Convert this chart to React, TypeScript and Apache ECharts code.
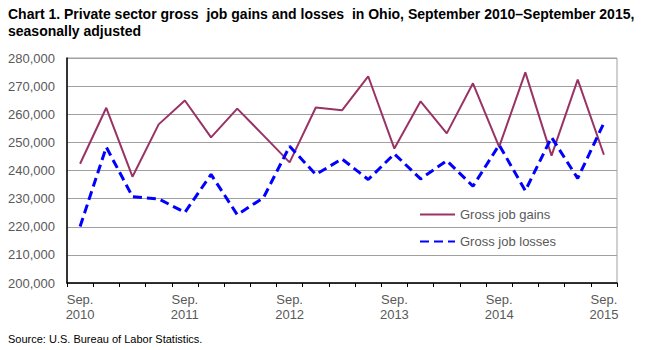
import React, { useEffect, useRef } from "react";
import * as echarts from "echarts";

const categories = [
  "Sep. 2010", "Dec. 2010", "Mar. 2011", "Jun. 2011",
  "Sep. 2011", "Dec. 2011", "Mar. 2012", "Jun. 2012",
  "Sep. 2012", "Dec. 2012", "Mar. 2013", "Jun. 2013",
  "Sep. 2013", "Dec. 2013", "Mar. 2014", "Jun. 2014",
  "Sep. 2014", "Dec. 2014", "Mar. 2015", "Jun. 2015",
  "Sep. 2015",
];

const grossJobGains = [
  242400, 262300, 237800, 256400, 264900, 251800, 262000, 252500,
  242900, 262400, 261400, 273500, 247800, 264600, 253200, 271000,
  248400, 274900, 245300, 272300, 245600,
];

const grossJobLosses = [
  220100, 248300, 230700, 229900, 225100, 238600, 224300, 230300,
  248600, 238600, 244100, 236800, 245900, 237000, 243500, 234400,
  249100, 232800, 251800, 237200, 256900,
];

const yMin = 200000;
const yMax = 280000;
const yStep = 10000;

const titleText =
  "Chart 1. Private sector gross  job gains and losses  in Ohio, September 2010\u2013September 2015,\nseasonally adjusted";
const sourceText = "Source: U.S. Bureau of Labor Statistics.";

export default function App() {
  const ref = useRef<HTMLDivElement>(null);
  useEffect(() => {
    if (!ref.current) return;
    const chart = echarts.init(ref.current, undefined, { renderer: "svg" });
    const narrow = "'Liberation Sans Narrow', 'Arial Narrow', 'Liberation Sans', Arial, sans-serif";
    const sans = "'Liberation Sans', Arial, sans-serif";
    chart.setOption({
      animation: false,
      backgroundColor: "#ffffff",
      title: {
        text: titleText,
        left: 8,
        top: 5,
        padding: 0,
        textStyle: {
          fontFamily: narrow,
          fontWeight: "bold",
          fontSize: 14,
          lineHeight: 17,
          color: "#000000",
        },
      },
      graphic: [
        {
          type: "text",
          left: 8,
          top: 333,
          style: {
            text: sourceText,
            font: `11px ${narrow}`,
            fill: "#000000",
          },
        },
      ],
      legend: {
        orient: "vertical",
        left: 419,
        top: 208,
        itemWidth: 35,
        itemHeight: 14,
        itemGap: 14,
        padding: 0,
        itemStyle: { opacity: 0 },
        textStyle: { fontFamily: sans, fontSize: 13, color: "#595959", padding: [0, 0, 0, 0] },
        data: ["Gross job gains", "Gross job losses"],
      },
      grid: {
        left: 67,
        right: 43,
        top: 58,
        bottom: 67,
        show: true,
        borderColor: "#a0a0a0",
        borderWidth: 1,
      },
      xAxis: {
        type: "category",
        data: categories,
        boundaryGap: true,
        axisLine: { lineStyle: { color: "#000000", width: 1.5 } },
        axisTick: { show: true, interval: 0, length: 4, lineStyle: { color: "#000000" } },
        axisLabel: {
          interval: 0,
          margin: 9,
          fontFamily: sans,
          fontSize: 13,
          lineHeight: 15,
          color: "#595959",
          formatter: (v: string) => (v.startsWith("Sep.") ? v.replace(" ", "\n") : ""),
        },
        splitLine: { show: false },
      },
      yAxis: {
        type: "value",
        min: yMin,
        max: yMax,
        interval: yStep,
        axisLine: { show: true, lineStyle: { color: "#000000", width: 1.5 } },
        axisTick: { show: false },
        axisLabel: {
          margin: 12,
          fontFamily: sans,
          fontSize: 13,
          color: "#595959",
          formatter: (v: number) => v.toLocaleString("en-US"),
        },
        splitLine: { show: true, lineStyle: { color: "#a0a0a0", width: 1 } },
      },
      series: [
        {
          name: "Gross job gains",
          type: "line",
          data: grossJobGains,
          symbol: "none",
          lineStyle: { color: "#993366", width: 2 },
          itemStyle: { color: "#993366" },
        },
        {
          name: "Gross job losses",
          type: "line",
          data: grossJobLosses,
          symbol: "none",
          lineStyle: { color: "#0000ff", width: 3, type: [9, 5] },
          itemStyle: { color: "#0000ff" },
        },
      ],
    });
    return () => chart.dispose();
  }, []);
  return (
    <div
      ref={ref}
      style={{ position: "absolute", left: 0, top: 0, width: 660, height: 350 }}
    />
  );
}
